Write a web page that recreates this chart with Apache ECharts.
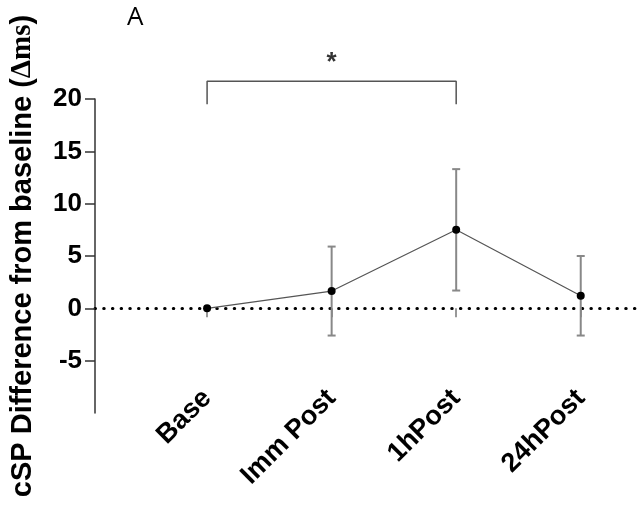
<!DOCTYPE html>
<html>
<head>
<meta charset="utf-8">
<script src="https://cdn.jsdelivr.net/npm/echarts@6/dist/echarts.min.js"></script>
<style>
  html, body { margin: 0; padding: 0; background: #fff; }
  #chart { width: 640px; height: 508px; }
</style>
</head>
<body>
<div id="chart"></div>
<script>
// values
const categories = ["Base", "Imm Post", "1hPost", "24hPost"];
const positions = [1, 2, 3, 4];
const means = [0, 1.65, 7.5, 1.2];
const errors = [0, 4.25, 5.8, 3.8];
const yTicks = [-5, 0, 5, 10, 15, 20];

// significance bracket between Base and 1hPost
const bracketX = [1, 3];
const bracketLow = 19.5;
const bracketHigh = 21.7;
const starY = 23.9;

const FONT = "'Liberation Sans', Arial, sans-serif";

const chart = echarts.init(document.getElementById("chart"));

const meanData = positions.map((x, i) => [x, means[i]]);
const errData = positions
  .map((x, i) => [x, means[i] - errors[i], means[i] + errors[i]])
  .filter((d) => d[2] > d[1]);
const bracketData = [
  [bracketX[0], bracketLow],
  [bracketX[0], bracketHigh],
  [bracketX[1], bracketHigh],
  [bracketX[1], bracketLow],
];

const option = {
  animation: false,
  backgroundColor: "#fff",
  grid: { left: 95, right: -3, top: 99, bottom: 95, outerBoundsMode: "none", containLabel: false },
  graphic: [
    {
      type: "text",
      left: 127,
      top: 5,
      style: { text: "A", font: "26px 'Open Sans', sans-serif", fill: "#000" },
    },
  ],
  xAxis: {
    type: "value",
    min: 0.1,
    max: 4.5,
    splitLine: { show: false },
    axisLine: {
      onZero: true,
      lineStyle: { color: "#000", width: 3, type: [0.5, 8.2], cap: "round" },
    },
    axisTick: {
      customValues: positions,
      length: 9,
      lineStyle: { color: "#777", width: 1.5 },
    },
    axisLabel: {
      customValues: positions,
      rotate: 45,
      margin: -19,
      color: "#000",
      fontSize: 27,
      fontWeight: "bold",
      fontFamily: FONT,
      formatter: (v) => categories[positions.indexOf(v)] || "",
    },
  },
  yAxis: {
    type: "value",
    min: -10,
    max: 20,
    splitLine: { show: false },
    axisLine: { onZero: false, lineStyle: { color: "#333", width: 1.5 } },
    axisTick: {
      customValues: yTicks,
      length: 10,
      lineStyle: { color: "#333", width: 1.5 },
    },
    axisLabel: {
      customValues: yTicks,
      margin: 13,
      color: "#000",
      fontSize: 26,
      fontWeight: "bold",
      fontFamily: FONT,
    },
    name: "cSP Difference from baseline ({s|Δms})",
    nameLocation: "middle",
    nameRotate: 90,
    nameGap: 58,
    nameTextStyle: {
      color: "#000",
      fontSize: 29,
      fontWeight: "bold",
      fontFamily: FONT,
      rich: {
        s: {
          color: "#000",
          fontSize: 29,
          fontWeight: "bold",
          fontFamily: "'Liberation Serif', 'DejaVu Serif', serif",
        },
      },
    },
  },
  series: [
    {
      // error bars (mean ± SD)
      type: "custom",
      data: errData,
      z: 3,
      renderItem: (params, api) => {
        const top = api.coord([api.value(0), api.value(2)]);
        const bot = api.coord([api.value(0), api.value(1)]);
        const w = 4;
        const style = { stroke: "#888", lineWidth: 2 };
        return {
          type: "group",
          children: [
            { type: "line", shape: { x1: top[0], y1: top[1], x2: bot[0], y2: bot[1] }, style },
            { type: "line", shape: { x1: top[0] - w, y1: top[1], x2: top[0] + w, y2: top[1] }, style },
            { type: "line", shape: { x1: bot[0] - w, y1: bot[1], x2: bot[0] + w, y2: bot[1] }, style },
          ],
        };
      },
    },
    {
      type: "line",
      data: meanData,
      z: 4,
      symbol: "circle",
      symbolSize: 8,
      itemStyle: { color: "#000" },
      lineStyle: { color: "#555", width: 1.2 },
    },
    {
      type: "line",
      data: bracketData,
      clip: false,
      symbol: "none",
      silent: true,
      lineStyle: { color: "#555", width: 1.5 },
    },
    {
      type: "scatter",
      data: [[(bracketX[0] + bracketX[1]) / 2, starY]],
      clip: false,
      symbolSize: 0,
      silent: true,
      label: {
        show: true,
        position: "inside",
        formatter: "*",
        color: "#000",
        fontSize: 26,
        fontWeight: "bold",
        fontFamily: FONT,
        offset: [0, 5],
      },
    },
  ],
};

chart.setOption(option);
</script>
</body>
</html>
